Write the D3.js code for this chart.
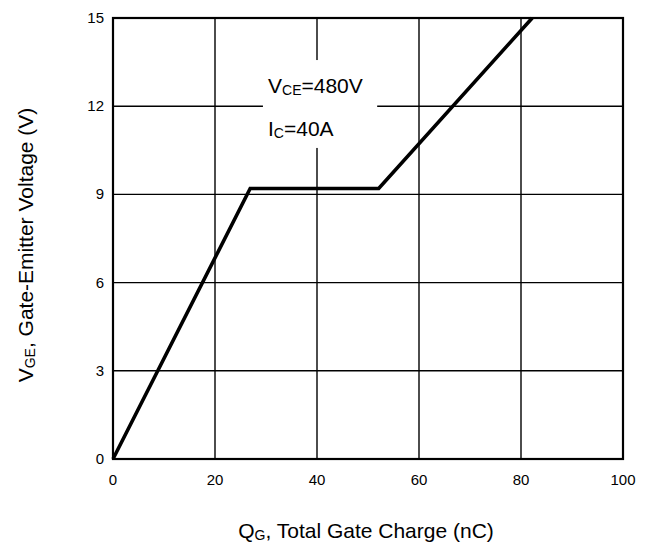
<!DOCTYPE html>
<html>
<head>
<meta charset="utf-8">
<script src="https://cdn.jsdelivr.net/npm/d3@7"></script>
<style>
  body { margin: 0; background: #fff; }
  text { font-family: Arial, "Liberation Sans", sans-serif; fill: #000; }
</style>
</head>
<body>
<svg id="chart" width="652" height="544"></svg>
<script>
// Gate charge curve
var qg  = [0, 26.9, 52.1, 82.2];   // nC
var vge = [0, 9.2, 9.2, 15];       // V

var xTicks = [0, 20, 40, 60, 80, 100];
var yTicks = [0, 3, 6, 9, 12, 15];

var svg = d3.select("#chart"),
    width = +svg.attr("width"),
    height = +svg.attr("height");

var margin = {top: 18, right: 29, bottom: 85, left: 113};

var x = d3.scaleLinear()
  .domain([0, 100])
  .range([margin.left, width - margin.right]);

var y = d3.scaleLinear()
  .domain([0, 15])
  .range([height - margin.bottom, margin.top]);

// grid lines
svg.append("g")
  .selectAll("line")
  .data(xTicks)
  .enter()
  .append("line")
    .attr("x1", function(d){ return x(d) })
    .attr("x2", function(d){ return x(d) })
    .attr("y1", y(0))
    .attr("y2", y(15))
    .attr("stroke", "#000")
    .attr("stroke-width", 1.4)

svg.append("g")
  .selectAll("line")
  .data(yTicks)
  .enter()
  .append("line")
    .attr("x1", x(0))
    .attr("x2", x(100))
    .attr("y1", function(d){ return y(d) })
    .attr("y2", function(d){ return y(d) })
    .attr("stroke", "#000")
    .attr("stroke-width", 1.4)

// white patch behind the annotation
svg.append("rect")
  .attr("x", x(29.4))
  .attr("y", y(13.57))
  .attr("width", x(51.8) - x(29.4))
  .attr("height", y(10.58) - y(13.57))
  .attr("fill", "#fff")

// frame
svg.append("rect")
  .attr("x", x(0))
  .attr("y", y(15))
  .attr("width", x(100) - x(0))
  .attr("height", y(0) - y(15))
  .attr("fill", "none")
  .attr("stroke", "#000")
  .attr("stroke-width", 2.2)

// the curve
var pts = qg.map(function(d, i){ return [d, vge[i]] });
svg.append("path")
  .datum(pts)
  .attr("fill", "none")
  .attr("stroke", "#000")
  .attr("stroke-width", 3.6)
  .attr("stroke-linejoin", "miter")
  .attr("d", d3.line()
    .x(function(d){ return x(d[0]) })
    .y(function(d){ return y(d[1]) }))

// tick labels
svg.append("g")
  .selectAll("text")
  .data(xTicks)
  .enter()
  .append("text")
    .attr("x", function(d){ return x(d) })
    .attr("y", y(0) + 26)
    .attr("text-anchor", "middle")
    .style("font-size", "15px")
    .text(function(d){ return d })

svg.append("g")
  .selectAll("text")
  .data(yTicks)
  .enter()
  .append("text")
    .attr("x", x(0) - 9)
    .attr("y", function(d){ return y(d) + 5 })
    .attr("text-anchor", "end")
    .style("font-size", "15px")
    .text(function(d){ return d })

// annotation
var note1 = svg.append("text")
  .attr("x", 268)
  .attr("y", 93)
  .style("font-size", "21px");
note1.append("tspan").text("V");
note1.append("tspan").attr("dy", 2).style("font-size", "14px").text("CE");
note1.append("tspan").attr("dy", -2).text("=480V");

var note2 = svg.append("text")
  .attr("x", 268)
  .attr("y", 136)
  .style("font-size", "21px");
note2.append("tspan").text("I");
note2.append("tspan").attr("dy", 2).style("font-size", "14px").text("C");
note2.append("tspan").attr("dy", -2).text("=40A");

// axis titles
var xl = svg.append("text")
  .attr("x", 366)
  .attr("y", 538)
  .attr("text-anchor", "middle")
  .style("font-size", "21px");
xl.append("tspan").text("Q");
xl.append("tspan").attr("dy", 2).style("font-size", "14px").text("G");
xl.append("tspan").attr("dy", -2).text(", Total Gate Charge (nC)");

var yl = svg.append("text")
  .attr("transform", "translate(33," + 245 + ") rotate(-90)")
  .attr("text-anchor", "middle")
  .style("font-size", "21px");
yl.append("tspan").text("V");
yl.append("tspan").attr("dy", 2).style("font-size", "14px").text("GE");
yl.append("tspan").attr("dy", -2).text(", Gate-Emitter Voltage (V)");
</script>
</body>
</html>
